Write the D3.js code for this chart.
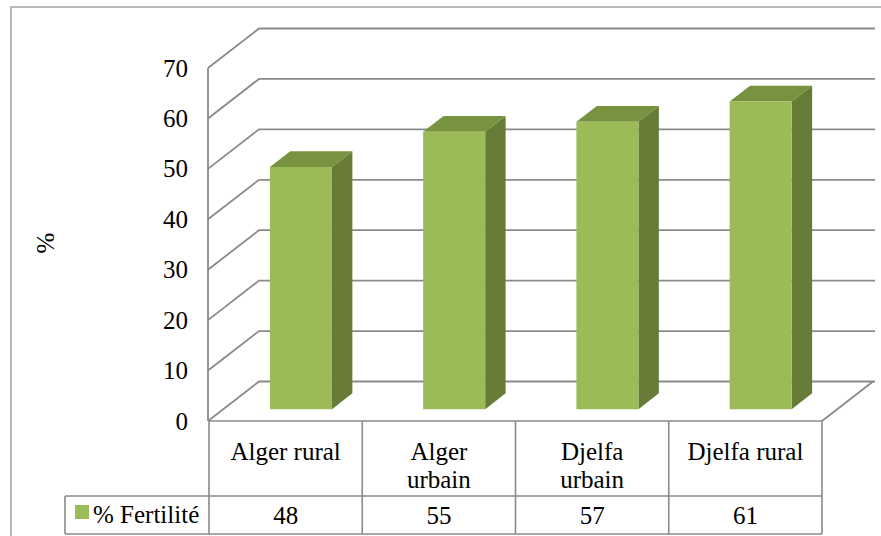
<!DOCTYPE html>
<html>
<head>
<meta charset="utf-8">
<script src="https://cdn.jsdelivr.net/npm/d3@7/dist/d3.min.js"></script>
<style>
  body { margin: 0; background: #fff; }
  svg { display: block; }
  text { font-family: "Liberation Serif", "Tinos", "Times New Roman", "DejaVu Serif", "Noto Serif", serif; fill: #000; }
</style>
</head>
<body>
<svg id="chart" width="881" height="536"></svg>
<script>
// Fertility rate (%) by region
const categories = ["Alger rural", "Alger urbain", "Djelfa urbain", "Djelfa rural"];
const categoryLines = [["Alger rural"], ["Alger", "urbain"], ["Djelfa", "urbain"], ["Djelfa rural"]];
const values = [48, 55, 57, 61];
const yTicks = [0, 10, 20, 30, 40, 50, 60, 70];
const seriesName = "% Fertilité";
const yTitle = "%";

const svg = d3.select("#chart");
const gridColor = "#8a8a8a";
const fontSize = 25;

// Outer frame
svg.append("rect")
  .attr("x", 11).attr("y", 7).attr("width", 900).attr("height", 560)
  .attr("fill", "none").attr("stroke", "#a3a3a3").attr("stroke-width", 1.5);

// Front plane scales; depth moves points up and to the right
const y = d3.scaleLinear().domain([0, 70]).range([421, 68]);
const x = d3.scaleBand().domain(categories).range([209, 822]);
const DX = 51, DY = -39.5;
const at = (px, py, d) => [px + DX * d, py + DY * d];
const wallRight = 875;

// Walls: gridlines run diagonally across the left wall, then along the back wall
const grid = svg.append("g").attr("fill", "none").attr("stroke", gridColor).attr("stroke-width", 1.8);
yTicks.forEach(t => {
  const p0 = at(x.range()[0] - 1, y(t), 0);
  const p1 = at(x.range()[0] - 1, y(t), 1);
  grid.append("path").attr("d", d3.line()([p0, p1, [wallRight, p1[1]]]));
});
grid.append("line")
  .attr("x1", x.range()[0] - 1).attr("x2", x.range()[0] - 1)
  .attr("y1", y(70)).attr("y2", y(0));
// Floor right edge
{
  const a = at(x.range()[1], y(0), 0), b = at(x.range()[1], y(0), 1);
  grid.append("path").attr("d", d3.line()([a, b]));
}

// Y axis labels
const yAxis = d3.axisLeft(y).tickValues(yTicks).tickSize(0).tickPadding(20);
const ax = svg.append("g").attr("transform", `translate(${x.range()[0] - 1},0)`).call(yAxis);
ax.attr("font-family", null).attr("font-size", null);
ax.select(".domain").remove();
ax.selectAll("text")
  .attr("font-size", fontSize)
  .attr("fill", "#000");

// Y title
svg.append("text")
  .attr("transform", "translate(54,243) rotate(-90)")
  .attr("text-anchor", "middle")
  .attr("font-size", fontSize)
  .text(yTitle);

// 3D bars
const dFront = 0.3, dBack = 0.7;
const barW = x.bandwidth() * 0.405;
const colFront = "#9bbb59", colTop = "#78933f", colSide = "#667c37";
const bars = svg.append("g");
categories.forEach((c, i) => {
  const v = values[i];
  const x0 = x(c) + (x.bandwidth() - barW) / 2, x1 = x0 + barW;
  const yt = y(v), yb = y(0);
  const poly = pts => pts.map(p => p.join(",")).join(" ");
  bars.append("polygon").attr("fill", colSide)
    .attr("points", poly([at(x1, yt, dFront), at(x1, yb, dFront), at(x1, yb, dBack), at(x1, yt, dBack)]));
  bars.append("polygon").attr("fill", colTop)
    .attr("points", poly([at(x0, yt, dFront), at(x1, yt, dFront), at(x1, yt, dBack), at(x0, yt, dBack)]));
  bars.append("polygon").attr("fill", colFront)
    .attr("points", poly([at(x0, yt, dFront), at(x1, yt, dFront), at(x1, yb, dFront), at(x0, yb, dFront)]));
});

// Data table under the chart
const tTop = y(0), tMid = 496, tBot = 534, legendLeft = 65;
const tbl = svg.append("g").attr("stroke", gridColor).attr("stroke-width", 1.6);
tbl.append("line").attr("x1", x.range()[0]).attr("x2", x.range()[1]).attr("y1", tTop).attr("y2", tTop);
tbl.append("line").attr("x1", legendLeft).attr("x2", x.range()[1]).attr("y1", tMid).attr("y2", tMid);
tbl.append("line").attr("x1", legendLeft).attr("x2", x.range()[1]).attr("y1", tBot).attr("y2", tBot);
tbl.append("line").attr("x1", legendLeft).attr("x2", legendLeft).attr("y1", tMid).attr("y2", tBot);
categories.forEach(c => {
  tbl.append("line").attr("x1", x(c)).attr("x2", x(c)).attr("y1", tTop).attr("y2", tBot);
});
tbl.append("line").attr("x1", x.range()[1]).attr("x2", x.range()[1]).attr("y1", tTop).attr("y2", tBot);

// Category labels and values
categories.forEach((c, i) => {
  const t = svg.append("text")
    .attr("text-anchor", "middle")
    .attr("font-size", fontSize);
  categoryLines[i].forEach((ln, j) => {
    t.append("tspan").attr("x", x(c) + x.bandwidth() / 2).attr("y", 460 + j * 28).text(ln);
  });
  svg.append("text")
    .attr("x", x(c) + x.bandwidth() / 2).attr("y", 524)
    .attr("text-anchor", "middle")
    .attr("font-size", fontSize)
    .text(values[i]);
});

// Legend key in the table
svg.append("rect").attr("x", 75).attr("y", 505).attr("width", 14).attr("height", 14).attr("fill", colFront);
svg.append("text").attr("x", 93).attr("y", 523).attr("font-size", fontSize).text(seriesName);
</script>
</body>
</html>
